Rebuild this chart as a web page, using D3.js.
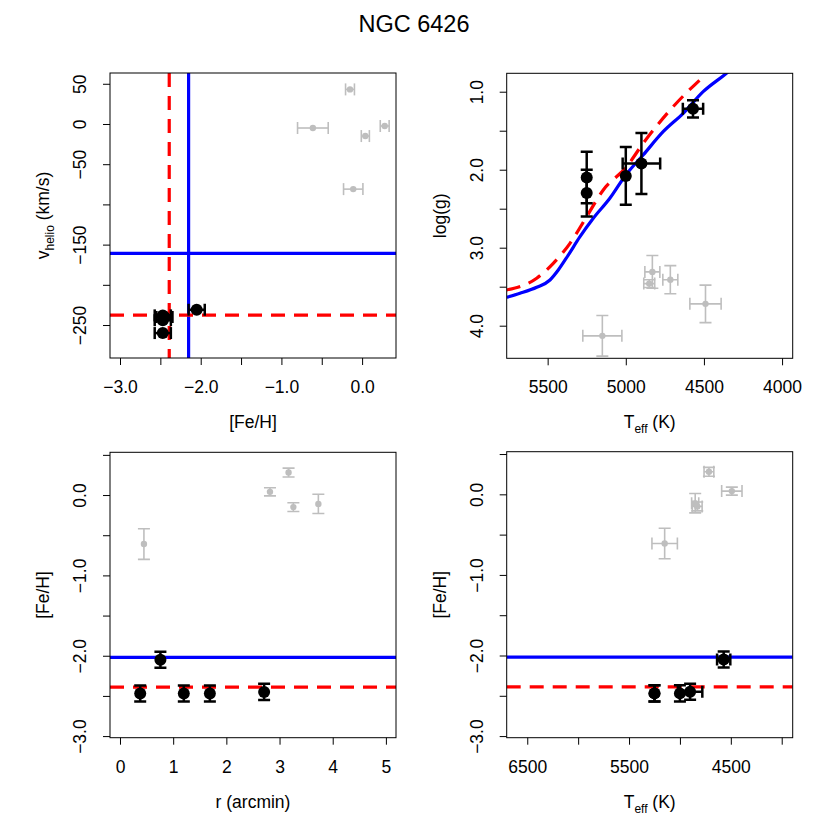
<!DOCTYPE html>
<html>
<head>
<meta charset="utf-8">
<title>NGC 6426</title>
<script src="https://cdn.jsdelivr.net/npm/d3@7"></script>
<style>
  body { margin: 0; background: #fff; }
  svg text { font-family: "Liberation Sans", Arial, Helvetica, sans-serif; fill: #000; }
</style>
</head>
<body>
<div id="chart"></div>
<script>
// member stars (black)
var memberTeff     = [5250, 5250, 5000, 4900, 4570];
var memberTeffErr  = [0, 0, 0, 120, 65];
var memberLogg     = [2.10, 2.30, 2.08, 1.92, 1.22];
var memberLoggErr  = [0.33, 0.30, 0.37, 0.39, 0.11];
var memberFeH      = [-2.47, -2.47, -2.47, -2.45, -2.05];
var memberFeHErr   = [0.10, 0.10, 0.10, 0.10, 0.10];
var memberR        = [0.38, 1.20, 1.69, 2.71, 0.76];
var memberV        = [-238, -244, -260, -240, -231];

// field stars (grey)
var fieldTeff      = [5150, 4715, 4490, 4830, 4850];
var fieldTeffErr   = [125, 48, 100, 48, 35];
var fieldLogg      = [4.13, 3.41, 3.72, 3.31, 3.46];
var fieldLoggErr   = [0.26, 0.18, 0.24, 0.21, 0.05];
var fieldFeH       = [-0.61, 0.28, 0.04, -0.15, -0.11];
var fieldFeHErr    = [0.19, 0.055, 0.05, 0.055, 0.12];
var fieldR         = [0.45, 3.17, 2.82, 3.26, 3.73];
var fieldV         = [-5, -2.5, -15, 43, -81];

// reference values (blue = literature, red = this work)
var litFeHTop = -2.15, litV = -161;
var litFeHBottom = -2.02;
var ourFeH = -2.39, ourV = -237.6;

// isochrones
var isoLitTeff = [5762, 5677, 5570, 5485, 5432, 5368, 5293, 5208, 5102, 5000, 4889, 4761, 4633, 4505, 4356, 4330];
var isoLitLogg = [3.636, 3.585, 3.508, 3.414, 3.286, 3.094, 2.859, 2.623, 2.367, 2.068, 1.812, 1.513, 1.277, 1.0, 0.764, 0.72];
var isoOurTeff = [5762, 5570, 5464, 5357, 5251, 5144, 4995, 4889, 4697, 4515];
var isoOurLogg = [3.542, 3.392, 3.20, 2.944, 2.603, 2.26, 1.962, 1.662, 1.192, 0.828];

// tick values
var feTicks = [-3.0, -2.5, -2.0, -1.5, -1.0, -0.5, 0.0];
var feTickLabels = [-3.0, -2.0, -1.0, 0.0];
var vTicks = [50, 0, -50, -100, -150, -200, -250];
var vTickLabels = [50, 0, -50, -150, -250];
var teffTicksTop = [5500, 5000, 4500, 4000];
var loggTicks = [1.0, 1.5, 2.0, 2.5, 3.0, 3.5, 4.0];
var loggTickLabels = [1.0, 2.0, 3.0, 4.0];
var rTicks = [0, 1, 2, 3, 4, 5];
var feTicksY = [0.5, 0.0, -0.5, -1.0, -1.5, -2.0, -2.5, -3.0];
var feTicksYLabels = [0.0, -1.0, -2.0, -3.0];
var teffTicksBottom = [6500, 6000, 5500, 5000, 4500, 4000];
var teffTicksBottomLabels = [6500, 5500, 4500];

var W = 830, H = 830;
var BLUE = '#0000ff', RED = '#ff0000', GREY = '#bebebe';
var DASH = '14,9';

var svg = d3.select('#chart').append('svg')
    .attr('width', W)
    .attr('height', H);

svg.append('text')
    .attr('x', 414)
    .attr('y', 32)
    .attr('text-anchor', 'middle')
    .style('font-size', '23.5px')
    .text('NGC 6426');

function makePanel(opt) {
    var g = svg.append('g');
    var x = d3.scaleLinear().domain(opt.xDomain).range([opt.left, opt.right]);
    var y = d3.scaleLinear().domain(opt.yDomain).range([opt.bottom, opt.top]);
    var clipId = 'clip' + opt.id;

    svg.append('clipPath').attr('id', clipId)
      .append('rect')
        .attr('x', opt.left).attr('y', opt.top)
        .attr('width', opt.right - opt.left)
        .attr('height', opt.bottom - opt.top);

    // bottom axis
    var xa = g.append('g')
        .attr('transform', 'translate(0,' + opt.bottom + ')')
        .call(d3.axisBottom(x).tickValues(opt.xTicks).tickSize(7).tickSizeOuter(0)
            .tickFormat(function(d) { return opt.xLabels.indexOf(d) >= 0 ? opt.xFmt(d) : ''; }));
    xa.select('.domain').remove();
    xa.selectAll('line').attr('stroke', '#000');
    xa.selectAll('text').attr('dy', null).attr('y', 35).style('font-size', '17.5px');

    // left axis, labels rotated like R
    var ya = g.append('g')
        .attr('transform', 'translate(' + opt.left + ',0)')
        .call(d3.axisLeft(y).tickValues(opt.yTicks).tickSize(7).tickSizeOuter(0)
            .tickFormat(function(d) { return opt.yLabels.indexOf(d) >= 0 ? opt.yFmt(d) : ''; }));
    ya.select('.domain').remove();
    ya.selectAll('line').attr('stroke', '#000');
    ya.selectAll('text')
        .attr('x', null).attr('dy', null)
        .attr('text-anchor', 'middle')
        .attr('transform', 'translate(-24,0) rotate(-90)')
        .style('font-size', '17.5px');

    // axis titles
    var xt = g.append('text')
        .attr('x', (opt.left + opt.right) / 2)
        .attr('y', opt.bottom + 70)
        .attr('text-anchor', 'middle')
        .style('font-size', '17.5px');
    opt.xTitle(xt);

    var yt = g.append('text')
        .attr('transform', 'translate(' + (opt.left - 61) + ',' + ((opt.top + opt.bottom) / 2) + ') rotate(-90)')
        .attr('text-anchor', 'middle')
        .style('font-size', '17.5px');
    opt.yTitle(yt);

    var plot = g.append('g').attr('clip-path', 'url(#' + clipId + ')');

    return {g: g, plot: plot, x: x, y: y, opt: opt};
}

function drawErrors(p, xs, ys, xe, ye, color, lw) {
    var cap = 6;
    var layer = p.plot.append('g')
        .attr('stroke', color)
        .attr('stroke-width', lw)
        .attr('fill', 'none');
    xs.forEach(function(xv, i) {
        var cx = p.x(xv), cy = p.y(ys[i]);
        if (xe && xe[i] > 0) {
            var x0 = p.x(xv - xe[i]), x1 = p.x(xv + xe[i]);
            layer.append('line').attr('x1', x0).attr('x2', x1).attr('y1', cy).attr('y2', cy);
            layer.append('line').attr('x1', x0).attr('x2', x0).attr('y1', cy - cap).attr('y2', cy + cap);
            layer.append('line').attr('x1', x1).attr('x2', x1).attr('y1', cy - cap).attr('y2', cy + cap);
        }
        if (ye && ye[i] > 0) {
            var y0 = p.y(ys[i] - ye[i]), y1 = p.y(ys[i] + ye[i]);
            layer.append('line').attr('x1', cx).attr('x2', cx).attr('y1', y0).attr('y2', y1);
            layer.append('line').attr('x1', cx - cap).attr('x2', cx + cap).attr('y1', y0).attr('y2', y0);
            layer.append('line').attr('x1', cx - cap).attr('x2', cx + cap).attr('y1', y1).attr('y2', y1);
        }
    });
}

function drawPoints(p, xs, ys, color, r) {
    p.plot.append('g').selectAll('circle')
        .data(xs)
        .enter()
        .append('circle')
        .attr('cx', function(d) { return p.x(d); })
        .attr('cy', function(d, i) { return p.y(ys[i]); })
        .attr('r', r)
        .attr('fill', color);
}

function hLine(p, v, color, dashed) {
    p.plot.append('line')
        .attr('x1', p.opt.left).attr('x2', p.opt.right)
        .attr('y1', p.y(v)).attr('y2', p.y(v))
        .attr('stroke', color).attr('stroke-width', 3.2)
        .attr('stroke-dasharray', dashed ? DASH : null);
}

function vLine(p, v, color, dashed) {
    p.plot.append('line')
        .attr('y1', p.opt.top).attr('y2', p.opt.bottom)
        .attr('x1', p.x(v)).attr('x2', p.x(v))
        .attr('stroke', color).attr('stroke-width', 3.2)
        .attr('stroke-dasharray', dashed ? DASH : null);
}

function drawBox(p) {
    p.g.append('rect')
        .attr('x', p.opt.left).attr('y', p.opt.top)
        .attr('width', p.opt.right - p.opt.left)
        .attr('height', p.opt.bottom - p.opt.top)
        .attr('fill', 'none')
        .attr('stroke', '#000')
        .attr('stroke-width', 1);
}

function minus(s) { return String(s).replace('-', '\u2212'); }
function fixed1(d) { return minus(d3.format('.1f')(d)); }
function plain(d) { return minus(String(d)); }

function feTitle(t) { t.text('[Fe/H]'); }
function teffTitle(t) {
    t.append('tspan').text('T');
    t.append('tspan').attr('dy', 5).style('font-size', '12px').text('eff');
    t.append('tspan').attr('dy', -5).text(' (K)');
}

// panel 1: v_helio vs [Fe/H]
var p1 = makePanel({
    id: 1, left: 110, right: 396, top: 73, bottom: 358,
    xDomain: [-3.124, 0.42], yDomain: [-291, 63.4],
    xTicks: feTicks, xLabels: feTickLabels, xFmt: fixed1,
    yTicks: vTicks, yLabels: vTickLabels, yFmt: plain,
    xTitle: feTitle,
    yTitle: function(t) {
        t.append('tspan').text('v');
        t.append('tspan').attr('dy', 5).style('font-size', '12px').text('helio');
        t.append('tspan').attr('dy', -5).text(' (km/s)');
    }
});
hLine(p1, litV, BLUE, false);
vLine(p1, litFeHTop, BLUE, false);
hLine(p1, ourV, RED, true);
vLine(p1, ourFeH, RED, true);
drawErrors(p1, fieldFeH, fieldV, fieldFeHErr, null, GREY, 1.6);
drawPoints(p1, fieldFeH, fieldV, GREY, 3.2);
drawErrors(p1, memberFeH, memberV, memberFeHErr, null, '#000', 2.5);
drawPoints(p1, memberFeH, memberV, '#000', 6);
drawBox(p1);

// panel 2: log g vs Teff
var p2 = makePanel({
    id: 2, left: 506.7, right: 792.7, top: 73.3, bottom: 358.3,
    xDomain: [5762, 3932], yDomain: [4.418, 0.764],
    xTicks: teffTicksTop, xLabels: teffTicksTop, xFmt: plain,
    yTicks: loggTicks, yLabels: loggTickLabels, yFmt: fixed1,
    xTitle: teffTitle,
    yTitle: function(t) { t.text('log(g)'); }
});
var isoLine = d3.line()
    .x(function(d) { return p2.x(d[0]); })
    .y(function(d) { return p2.y(d[1]); })
    .curve(d3.curveMonotoneX);
p2.plot.append('path')
    .datum(d3.zip(isoLitTeff, isoLitLogg))
    .attr('d', isoLine)
    .attr('fill', 'none').attr('stroke', BLUE).attr('stroke-width', 3.2);
p2.plot.append('path')
    .datum(d3.zip(isoOurTeff, isoOurLogg))
    .attr('d', isoLine)
    .attr('fill', 'none').attr('stroke', RED).attr('stroke-width', 3.2)
    .attr('stroke-dasharray', DASH);
drawErrors(p2, fieldTeff, fieldLogg, fieldTeffErr, fieldLoggErr, GREY, 1.6);
drawPoints(p2, fieldTeff, fieldLogg, GREY, 3.2);
drawErrors(p2, memberTeff, memberLogg, memberTeffErr, memberLoggErr, '#000', 2.5);
drawPoints(p2, memberTeff, memberLogg, '#000', 6);
drawBox(p2);

// panel 3: [Fe/H] vs r
var p3 = makePanel({
    id: 3, left: 110, right: 396, top: 452.3, bottom: 737.7,
    xDomain: [-0.188, 5.19], yDomain: [-3.02, 0.532],
    xTicks: rTicks, xLabels: rTicks, xFmt: plain,
    yTicks: feTicksY, yLabels: feTicksYLabels, yFmt: fixed1,
    xTitle: function(t) { t.text('r (arcmin)'); },
    yTitle: feTitle
});
hLine(p3, litFeHBottom, BLUE, false);
hLine(p3, ourFeH, RED, true);
drawErrors(p3, fieldR, fieldFeH, null, fieldFeHErr, GREY, 1.6);
drawPoints(p3, fieldR, fieldFeH, GREY, 3.2);
drawErrors(p3, memberR, memberFeH, null, memberFeHErr, '#000', 2.5);
drawPoints(p3, memberR, memberFeH, '#000', 6);
drawBox(p3);

// panel 4: [Fe/H] vs Teff
var p4 = makePanel({
    id: 4, left: 506.7, right: 792.7, top: 451.7, bottom: 737.7,
    xDomain: [6702, 3892], yDomain: [-3.02, 0.529],
    xTicks: teffTicksBottom, xLabels: teffTicksBottomLabels, xFmt: plain,
    yTicks: feTicksY, yLabels: feTicksYLabels, yFmt: fixed1,
    xTitle: teffTitle,
    yTitle: feTitle
});
hLine(p4, litFeHBottom, BLUE, false);
hLine(p4, ourFeH, RED, true);
drawErrors(p4, fieldTeff, fieldFeH, fieldTeffErr, fieldFeHErr, GREY, 1.6);
drawPoints(p4, fieldTeff, fieldFeH, GREY, 3.2);
drawErrors(p4, memberTeff, memberFeH, memberTeffErr, memberFeHErr, '#000', 2.5);
drawPoints(p4, memberTeff, memberFeH, '#000', 6);
drawBox(p4);
</script>
</body>
</html>
